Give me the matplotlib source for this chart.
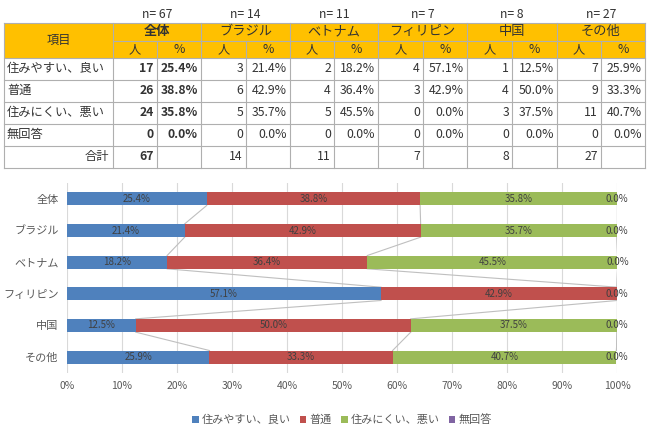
import matplotlib.pyplot as plt
import numpy as np
from matplotlib.patches import Rectangle

plt.rcParams['font.family'] = ['Noto Sans CJK JP', 'DejaVu Sans']

groups = ['全体', 'ブラジル', 'ベトナム', 'フィリピン', '中国', 'その他']
n_total = [67, 14, 11, 7, 8, 27]
items = ['住みやすい、良い', '普通', '住みにくい、悪い', '無回答']
counts = [
    [17, 3, 2, 4, 1, 7],
    [26, 6, 4, 3, 4, 9],
    [24, 5, 5, 0, 3, 11],
    [0, 0, 0, 0, 0, 0],
]
pcts = [
    [25.4, 21.4, 18.2, 57.1, 12.5, 25.9],
    [38.8, 42.9, 36.4, 42.9, 50.0, 33.3],
    [35.8, 35.7, 45.5, 0.0, 37.5, 40.7],
    [0.0, 0.0, 0.0, 0.0, 0.0, 0.0],
]
colors = ['#4F81BD', '#C0504D', '#9BBB59', '#8064A2']

W, H = 650, 429
fig = plt.figure(figsize=(6.5, 4.29), dpi=100)

# ---- table drawn in pixel coordinates
tb = fig.add_axes([0, 0, 1, 1])
tb.set_xlim(0, W)
tb.set_ylim(H, 0)
tb.axis('off')

xs = [4, 113, 157, 201, 246, 290, 334, 378, 423, 467, 512, 557, 601, 645]
ys = [22.5, 40.5, 58, 79.5, 101.5, 123.5, 145.5, 167.5]
hdr = '#FFC000'
lc = '#AFAFAF'
fs = 8.8
txt = '#333333'

tb.add_patch(Rectangle((xs[0], ys[0]), xs[-1] - xs[0], ys[2] - ys[0],
                       facecolor=hdr, edgecolor='none'))
# horizontal lines
tb.plot([xs[0], xs[-1]], [ys[0], ys[0]], color=lc, lw=0.8)
tb.plot([xs[1], xs[-1]], [ys[1], ys[1]], color=lc, lw=0.8)
for y in ys[2:]:
    tb.plot([xs[0], xs[-1]], [y, y], color=lc, lw=0.8)
# vertical lines
for i, x in enumerate(xs):
    if i == 0 or i % 2 == 1 or i == len(xs) - 1:
        tb.plot([x, x], [ys[0], ys[-1]], color=lc, lw=0.8)
    else:
        tb.plot([x, x], [ys[1], ys[-1]], color=lc, lw=0.8)

tb.text((xs[0] + xs[1]) / 2, (ys[0] + ys[2]) / 2, '項目', ha='center',
        va='center', fontsize=fs, color=txt)
for g, name in enumerate(groups):
    x0, xm, x1 = xs[1 + 2 * g], xs[2 + 2 * g], xs[3 + 2 * g]
    bold = 'bold' if g == 0 else 'normal'
    tb.text((x0 + x1) / 2, 15, f'n= {n_total[g]}', ha='center', va='center',
            fontsize=fs, color=txt)
    tb.text((x0 + x1) / 2, (ys[0] + ys[1]) / 2, name, ha='center', va='center',
            fontsize=fs + 0.7, color=txt, fontweight=bold)
    tb.text((x0 + xm) / 2, (ys[1] + ys[2]) / 2, '人', ha='center', va='center',
            fontsize=fs, color=txt)
    tb.text((xm + x1) / 2, (ys[1] + ys[2]) / 2, '%', ha='center', va='center',
            fontsize=fs, color=txt)
    for r in range(len(items)):
        yc = (ys[2 + r] + ys[3 + r]) / 2
        tb.text(xm - 3, yc, str(counts[r][g]), ha='right', va='center',
                fontsize=fs, color=txt, fontweight=bold)
        tb.text(x1 - 3, yc, f'{pcts[r][g]:.1f}%', ha='right', va='center',
                fontsize=fs, color=txt, fontweight=bold)
    tb.text(xm - 3, (ys[6] + ys[7]) / 2, str(n_total[g]), ha='right',
            va='center', fontsize=fs, color=txt, fontweight=bold)
for r, it in enumerate(items):
    tb.text(xs[0] + 3, (ys[2 + r] + ys[3 + r]) / 2, it, ha='left',
            va='center', fontsize=fs, color=txt)
tb.text(xs[1] - 4, (ys[6] + ys[7]) / 2, '合計', ha='right', va='center',
        fontsize=fs, color=txt)

# ---- stacked bar chart
ax = fig.add_axes([67 / W, (H - 373) / H, 550 / W, 190 / H])
ypos = np.arange(len(groups))
bh = 0.42
left = np.zeros(len(groups))
bounds = [left.copy()]
for k, it in enumerate(items):
    vals = np.array(pcts[k]) / 100
    ax.barh(ypos, vals, left=left, height=bh, color=colors[k], label=it,
            zorder=3)
    for i, v in enumerate(vals):
        if v > 0 or k == len(items) - 1:
            ax.text(left[i] + v / 2, ypos[i], f'{pcts[k][i]:.1f}%',
                    ha='center', va='center', fontsize=7, color='#404040',
                    zorder=4)
    left = left + vals
    bounds.append(left.copy())

# series lines between bars
for b in bounds[1:]:
    for i in range(len(groups) - 1):
        ax.plot([b[i], b[i + 1]], [ypos[i] + bh / 2, ypos[i + 1] - bh / 2],
                color='#BFBFBF', lw=0.8, zorder=2)

ax.set_xlim(0, 1)
ax.set_ylim(len(groups) - 0.5, -0.5)
ax.set_yticks(ypos)
ax.set_yticklabels(groups, fontsize=8, color='#595959')
ax.set_xticks(np.linspace(0, 1, 11))
ax.set_xticklabels([f'{int(t)}%' for t in np.linspace(0, 100, 11)],
                   fontsize=7.5, color='#595959')
ax.grid(axis='x', color='#D9D9D9', lw=0.8, zorder=0)
for s in ax.spines.values():
    s.set_visible(False)
ax.tick_params(length=0, pad=6)

ax.legend(loc='center', bbox_to_anchor=(0.5, -0.245), ncol=4, frameon=False,
          fontsize=8, handlelength=0.6, handleheight=0.6, handletextpad=0.3,
          columnspacing=0.8, labelcolor='#595959')

fig.savefig('out.png', dpi=100)
